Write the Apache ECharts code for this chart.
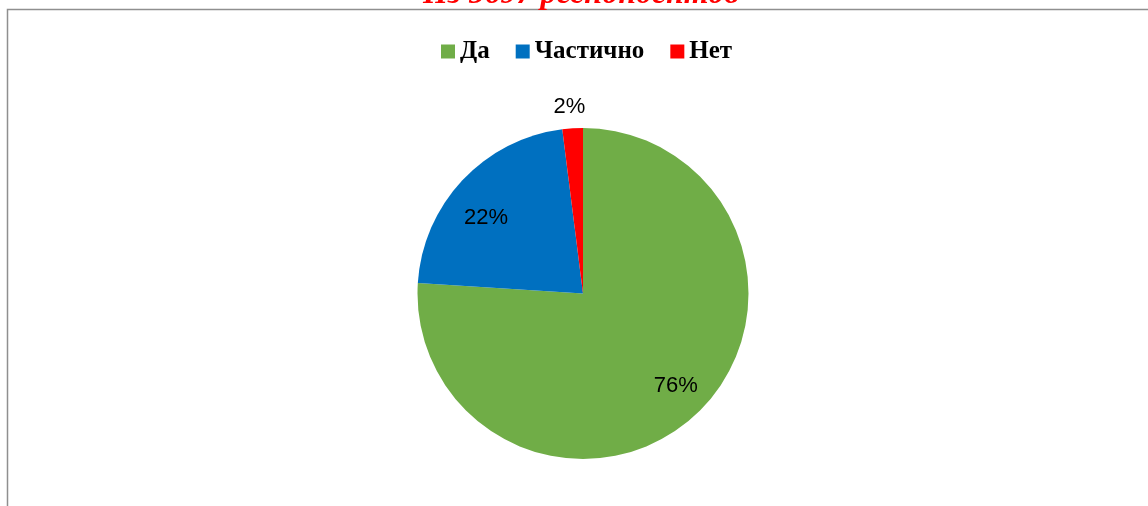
<!DOCTYPE html>
<html>
<head>
<meta charset="utf-8">
<script src="https://cdn.jsdelivr.net/npm/echarts@6/dist/echarts.min.js"></script>
<style>
html,body{margin:0;padding:0;background:#fff;}
#chart{width:1148px;height:506px;}
</style>
</head>
<body>
<div id="chart"></div>
<script>
const titleText = 'Из 5697 респондентов';
const categories = ['Да', 'Частично', 'Нет'];
const values = [76, 22, 2];
const colors = ['#70AD47', '#0070C0', '#FF0000'];

const chart = echarts.init(document.getElementById('chart'), null, {renderer: 'canvas'});

// small per-label nudges (Excel "best fit" placement), by data index
const labelNudge = [[3, -3.5], [-1.5, 14], [-1.5, 5]];
function nudgeLayout(params) {
  const n = labelNudge[params.dataIndex] || [0, 0];
  return {dx: n[0], dy: n[1]};
}

const baseData = categories.map((c, i) => ({name: c, value: values[i], itemStyle: {color: colors[i]}}));
const insideLabelData = categories.map((c, i) => ({
  name: c, value: values[i],
  label: {show: i < 2}
}));
const outerLabelData = categories.map((c, i) => ({
  name: c, value: values[i],
  label: {show: i === 2}
}));

const labelStyle = {
  position: 'inside',
  formatter: '{c}%',
  color: '#000',
  fontFamily: 'Liberation Sans, Arial, sans-serif',
  fontSize: 22
};

chart.setOption({
  animation: false,
  backgroundColor: '#fff',
  title: {
    text: titleText,
    left: 418,
    top: -26,
    textStyle: {
      color: '#FF0000',
      fontFamily: 'Liberation Serif, Times New Roman, serif',
      fontStyle: 'italic',
      fontWeight: 'bold',
      fontSize: 32
    }
  },
  graphic: [{
    type: 'rect',
    shape: {x: 7.5, y: 9.5, width: 1200, height: 600},
    style: {fill: 'none', stroke: '#8f8f8f', lineWidth: 1.5},
    silent: true,
    z: -1
  }],
  legend: {
    data: categories,
    top: 34,
    left: 436,
    icon: 'rect',
    itemWidth: 14,
    itemHeight: 14,
    itemGap: 26,
    textStyle: {
      fontFamily: 'Liberation Serif, Times New Roman, serif',
      fontWeight: 'bold',
      fontSize: 25,
      color: '#000'
    }
  },
  series: [
    {
      type: 'pie',
      center: [583, 293.5],
      radius: [0, 165.5],
      startAngle: 90,
      clockwise: true,
      label: {show: false},
      labelLine: {show: false},
      itemStyle: {borderWidth: 0},
      emphasis: {disabled: true},
      data: baseData
    },
    {
      type: 'pie',
      center: [583, 293.5],
      radius: [91, 165],
      startAngle: 90,
      clockwise: true,
      silent: true,
      itemStyle: {color: 'rgba(0,0,0,0)'},
      label: labelStyle,
      labelLine: {show: false},
      labelLayout: nudgeLayout,
      emphasis: {disabled: true},
      legendHoverLink: false,
      data: insideLabelData
    },
    {
      type: 'pie',
      center: [583, 293.5],
      radius: [178, 199],
      startAngle: 90,
      clockwise: true,
      silent: true,
      itemStyle: {color: 'rgba(0,0,0,0)'},
      label: labelStyle,
      labelLine: {show: false},
      labelLayout: nudgeLayout,
      emphasis: {disabled: true},
      legendHoverLink: false,
      data: outerLabelData
    }
  ]
});
</script>
</body>
</html>
